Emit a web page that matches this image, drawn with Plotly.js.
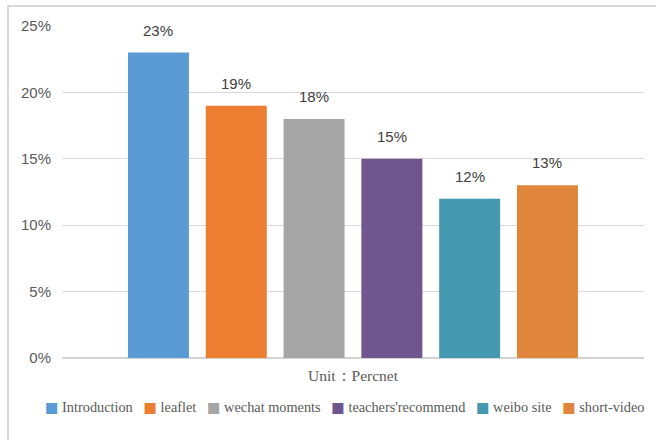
<!DOCTYPE html>
<html>
<head>
<meta charset="utf-8">
<script src="https://cdn.plot.ly/plotly-3.0.1.min.js"></script>
<style>
  html, body { margin: 0; padding: 0; background: #fff; }
  #wrap { position: relative; width: 656px; height: 440px; overflow: hidden; }
  #chart { position: absolute; left: 0; top: 0; width: 656px; height: 440px; }
  #frame { position: absolute; left: 7px; top: 5px; width: 800px; height: 600px;
           border-left: 2px solid #D9D9D9; border-top: 2px solid #D9D9D9; pointer-events: none; }
</style>
</head>
<body>
<div id="wrap">
  <div id="chart"></div>
  <div id="frame"></div>
</div>
<script>
const categories = ["Introduction", "leaflet", "wechat moments", "teachers'recommend", "weibo site", "short-video"];
const values = [23, 19, 18, 15, 12, 13];
const colors = ["#5B9BD5", "#ED7D31", "#A5A5A5", "#6F568F", "#4499B0", "#DF863C"];
const yTicks = [0, 5, 10, 15, 20, 25];
const xTitle = "Unit：Percnet";

const serif = "Liberation Serif, Times New Roman, serif";
const sans = "Liberation Sans, Arial, sans-serif";

const traces = categories.map((c, i) => ({
  type: "bar",
  name: c,
  x: [c],
  y: [values[i]],
  width: 0.784,
  marker: { color: colors[i] },
  hoverinfo: "skip",
  showlegend: false
}));

const annotations = categories.map((c, i) => ({
  x: c, y: values[i], xref: "x", yref: "y",
  text: values[i] + "%",
  showarrow: false, yanchor: "bottom", yshift: 12,
  font: { family: sans, size: 15, color: "#404040" }
}));

// legend line built from the series names and colours
const legendHtml = categories.map((c, i) =>
  '<span style="color:' + colors[i] + ';font-family:DejaVu Sans">■</span> ' + c
).join('   ');
annotations.push({
  xref: "paper", yref: "paper", x: 0.486, y: -0.147, xanchor: "center", yanchor: "middle",
  text: legendHtml, showarrow: false,
  font: { family: serif, size: 14.3, color: "#595959" }
});

const layout = {
  width: 656, height: 440,
  margin: { l: 62, r: 12, t: 26, b: 82 },
  paper_bgcolor: "#ffffff", plot_bgcolor: "#ffffff",
  barmode: "overlay",
  showlegend: false,
  xaxis: {
    type: "category",
    categoryorder: "array", categoryarray: categories,
    range: [-1.240, 6.241],
    showticklabels: false, showgrid: false, zeroline: false, showline: false, ticks: "",
    fixedrange: true,
    title: { text: xTitle, standoff: 12, font: { family: serif, size: 15.5, color: "#595959" } }
  },
  yaxis: {
    range: [0, 25],
    tickvals: yTicks,
    ticktext: yTicks.map(v => v + "%"),
    showgrid: true, gridcolor: "#D9D9D9", gridwidth: 1,
    zeroline: true, zerolinecolor: "#D3D3D3", zerolinewidth: 1.5,
    showline: false, ticks: "",
    ticklabelstandoff: 10,
    tickfont: { family: sans, size: 15, color: "#595959" },
    fixedrange: true
  },
  annotations: annotations
};

Plotly.newPlot("chart", traces, layout, { displayModeBar: false, staticPlot: true });
</script>
</body>
</html>
